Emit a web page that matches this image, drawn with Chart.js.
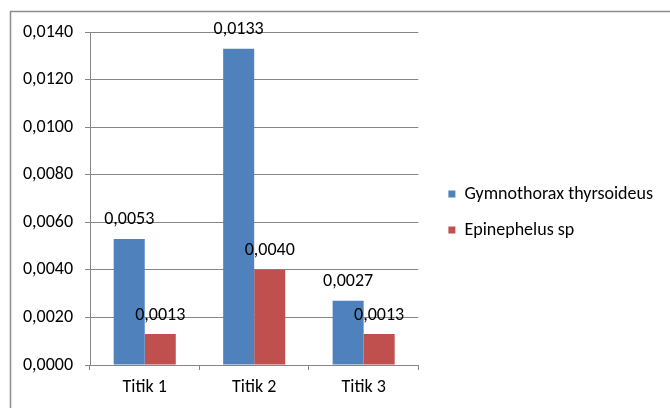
<!DOCTYPE html>
<html lang="id">
<head>
  <meta charset="UTF-8">
  <title>Titik</title>
  <script src="https://cdn.jsdelivr.net/npm/chart.js"></script>
  <style>
    html, body { margin: 0; padding: 0; background: #fff; }
    #wrap { width: 670px; height: 408px; }
  </style>
</head>
<body>
  <div id="wrap"><canvas id="myBarChart"></canvas></div>

  <script>
    const labels = ['Titik 1', 'Titik 2', 'Titik 3'];
    const gymnothorax = [0.0053, 0.0133, 0.0027];
    const epinephelus = [0.0013, 0.0040, 0.0013];
    const seriesNames = ['Gymnothorax thyrsoideus', 'Epinephelus sp'];

    const fontFamily = 'Carlito, Calibri, Lato, sans-serif';
    const fontSize = 18;
    const fmt = v => v.toFixed(4).replace('.', ',');

    // marco gris del área del gráfico
    const frame = {
      id: 'frame',
      beforeDraw(chart) {
        const ctx = chart.ctx;
        ctx.save();
        ctx.strokeStyle = '#8c8c8c';
        ctx.lineWidth = 1.5;
        ctx.strokeRect(10.5, 11.5, 720, 500);
        ctx.restore();
      }
    };

    // etiquetas de valor encima de cada barra
    const valueLabels = {
      id: 'valueLabels',
      afterDatasetsDraw(chart) {
        const ctx = chart.ctx;
        ctx.save();
        ctx.font = fontSize + 'px ' + fontFamily;
        ctx.fillStyle = '#000';
        ctx.textAlign = 'center';
        ctx.textBaseline = 'middle';
        chart.data.datasets.forEach((ds, i) => {
          chart.getDatasetMeta(i).data.forEach((bar, j) => {
            ctx.fillText(fmt(ds.data[j]), bar.x, bar.y - 19);
          });
        });
        ctx.restore();
      }
    };

    // mover la leyenda un poco a la derecha
    const legendShift = {
      id: 'legendShift',
      afterLayout(chart) {
        chart.legend.left += 12;
        chart.legend.right += 12;
      }
    };

    const data = {
      labels: labels,
      datasets: [{
        label: seriesNames[0],
        data: gymnothorax,
        backgroundColor: '#4F81BD'
      }, {
        label: seriesNames[1],
        data: epinephelus,
        backgroundColor: '#C0504D'
      }]
    };

    const config = {
      type: 'bar',
      data: data,
      plugins: [frame, valueLabels, legendShift],
      options: {
        maintainAspectRatio: false,
        responsive: true,
        animation: false,
        categoryPercentage: 0.567,
        barPercentage: 1,
        layout: { padding: { left: 10, top: 32, right: 19, bottom: 16 } },
        plugins: {
          legend: {
            position: 'right',
            maxWidth: 300,
            labels: {
              boxWidth: 7,
              boxHeight: 7,
              padding: 18,
              color: '#000',
              font: { family: fontFamily, size: fontSize }
            }
          },
          tooltip: { enabled: false }
        },
        scales: {
          x: {
            afterFit: s => { s.height = 27; },
            grid: {
              drawOnChartArea: false,
              tickLength: 5,
              color: '#868686'
            },
            border: { color: '#868686' },
            ticks: {
              padding: 7,
              color: '#000',
              font: { family: fontFamily, size: fontSize }
            }
          },
          y: {
            min: 0,
            max: 0.014,
            afterFit: s => { s.width = 80; },
            grid: { tickLength: 5, color: '#868686' },
            border: { color: '#868686' },
            ticks: {
              stepSize: 0.002,
              padding: 12,
              color: '#000',
              font: { family: fontFamily, size: fontSize },
              callback: v => fmt(v)
            }
          }
        }
      }
    };
    new Chart(document.getElementById('myBarChart'), config);
  </script>
</body>
</html>
